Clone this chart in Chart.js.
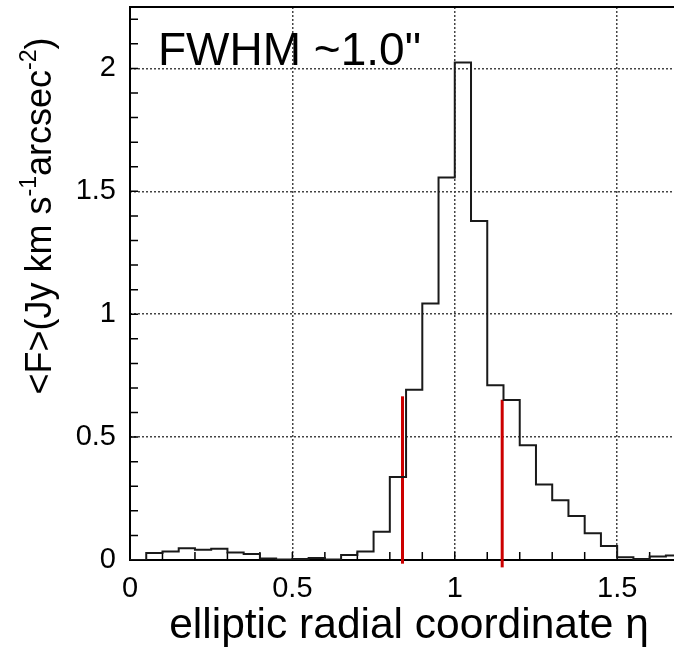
<!DOCTYPE html>
<html lang="en">
<head>
  <meta charset="UTF-8" />
  <title>Mean flux vs elliptic radial coordinate</title>
  <script src="https://cdn.jsdelivr.net/npm/chart.js"></script>
  <style>
    html, body { margin: 0; padding: 0; background: #fff; }
    #wrap { width: 674px; height: 647px; position: relative; }
  </style>
</head>
<body>
  <div id="wrap"><canvas id="fluxChart"></canvas></div>

  <script>
    // histogram bins (lower edges, width 0.05) and mean flux per bin
    const binEdges = [0, 0.05, 0.1, 0.15, 0.2, 0.25, 0.3, 0.35, 0.4, 0.45, 0.5, 0.55, 0.6, 0.65,
                      0.7, 0.75, 0.8, 0.85, 0.9, 0.95, 1.0, 1.05, 1.1, 1.15, 1.2, 1.25, 1.3, 1.35,
                      1.4, 1.45, 1.5, 1.55, 1.6, 1.65];
    const lastEdge = 1.7;
    const meanFlux = [0, 0.028, 0.035, 0.048, 0.042, 0.046, 0.031, 0.024, 0.006, 0.002, 0.004, 0.008, 0.002, 0.02,
                      0.035, 0.115, 0.338, 0.693, 1.044, 1.556, 2.024, 1.379, 0.711, 0.651, 0.467, 0.307, 0.243, 0.179,
                      0.109, 0.057, 0.011, 0.004, 0.014, 0.018];

    // red FWHM markers
    const markerX = [0.839, 1.146];
    const markerTop = [0.666, 0.652];
    const markerBottom = [-0.015, -0.03];

    const xTicks = [0, 0.5, 1, 1.5];
    const yTicks = [0, 0.5, 1, 1.5, 2];
    const xMinor = [0.1, 0.2, 0.3, 0.4, 0.5, 0.6, 0.7, 0.8, 0.9, 1.0, 1.1, 1.2, 1.3, 1.4, 1.5, 1.6];
    const yMinor = [0.1, 0.2, 0.3, 0.4, 0.5, 0.6, 0.7, 0.8, 0.9, 1.0, 1.1, 1.2, 1.3, 1.4, 1.5, 1.6,
                    1.7, 1.8, 1.9, 2.0, 2.1, 2.2];

    const FONT = '"Liberation Sans", Arial, Helvetica, sans-serif';

    const histPoints = binEdges.map((x, i) => ({ x: x, y: meanFlux[i] }));
    histPoints.push({ x: lastEdge, y: meanFlux[meanFlux.length - 1] });

    const markerSets = markerX.map((x, i) => ({
      data: [{ x: x, y: markerBottom[i] }, { x: x, y: markerTop[i] }],
      borderColor: '#cc0000',
      borderWidth: 3,
      pointRadius: 0,
      clip: false
    }));

    const frameAndText = {
      id: 'frameAndText',
      beforeDatasetsDraw(chart) {
        const { ctx, chartArea: a, scales: { x, y } } = chart;
        ctx.save();
        ctx.strokeStyle = '#000';
        ctx.lineWidth = 2;
        ctx.beginPath();
        ctx.moveTo(a.right + 2, a.top);
        ctx.lineTo(a.left, a.top);
        ctx.lineTo(a.left, a.bottom);
        ctx.lineTo(a.right + 2, a.bottom);
        ctx.stroke();

        ctx.lineWidth = 1.5;
        ctx.beginPath();
        xMinor.forEach(v => {
          const px = x.getPixelForValue(v);
          ctx.moveTo(px, a.bottom);
          ctx.lineTo(px, a.bottom - 8);
        });
        yMinor.forEach(v => {
          const py = y.getPixelForValue(v);
          ctx.moveTo(a.left, py);
          ctx.lineTo(a.left + 8, py);
        });
        ctx.stroke();
        ctx.restore();
      },
      afterDraw(chart) {
        const { ctx, chartArea: a } = chart;
        ctx.save();
        ctx.fillStyle = '#000';
        ctx.textBaseline = 'alphabetic';

        // label inside the plot
        ctx.font = '46px ' + FONT;
        ctx.textAlign = 'left';
        ctx.fillText('FWHM ~1.0"', a.left + 28, 65);

        // x axis title
        ctx.font = '42.5px ' + FONT;
        ctx.textAlign = 'center';
        ctx.fillText('elliptic radial coordinate \u03b7', 409, 638);

        // y axis title with superscripts
        const parts = [
          ['<F>(Jy km s', 0], ['-1', 1], ['arcsec', 0], ['-2', 1], [')', 0]
        ];
        const big = '36px ' + FONT, small = '23px ' + FONT;
        let total = 0;
        parts.forEach(p => { ctx.font = p[1] ? small : big; total += ctx.measureText(p[0]).width; });
        ctx.translate(51, 216 + total / 2);
        ctx.rotate(-Math.PI / 2);
        ctx.textAlign = 'left';
        let pos = 0;
        parts.forEach(p => {
          ctx.font = p[1] ? small : big;
          ctx.fillText(p[0], pos, p[1] ? -15 : 0);
          pos += ctx.measureText(p[0]).width;
        });
        ctx.restore();
      }
    };

    new Chart(document.getElementById('fluxChart'), {
      type: 'line',
      data: {
        datasets: [{
          data: histPoints,
          stepped: true,
          borderColor: '#1a1a1a',
          borderWidth: 2,
          pointRadius: 0,
          fill: false
        }].concat(markerSets)
      },
      options: {
        responsive: true,
        maintainAspectRatio: false,
        animation: false,
        layout: { padding: { top: 7, right: 0, left: 0, bottom: 0 } },
        plugins: { legend: { display: false }, tooltip: { enabled: false } },
        scales: {
          x: {
            type: 'linear',
            min: 0,
            max: 1.675,
            afterBuildTicks: s => { s.ticks = xTicks.map(v => ({ value: v })); },
            afterFit: s => { s.height = 87; s.paddingLeft = 0; s.paddingRight = 0; },
            ticks: {
              callback: v => String(v),
              color: '#000',
              font: { family: FONT, size: 29 },
              padding: 12,
              maxRotation: 0
            },
            grid: {
              drawTicks: false,
              color: c => (c.tick && c.tick.value === 0) ? 'rgba(0,0,0,0)' : '#444',
              lineWidth: 1.5
            },
            border: { display: false, dash: [2, 2] }
          },
          y: {
            type: 'linear',
            min: 0,
            max: 2.25,
            afterBuildTicks: s => { s.ticks = yTicks.map(v => ({ value: v })); },
            afterFit: s => { s.width = 130; s.paddingTop = 0; s.paddingBottom = 0; },
            ticks: {
              callback: v => String(v),
              color: '#000',
              font: { family: FONT, size: 29 },
              padding: 14
            },
            grid: {
              drawTicks: false,
              color: c => (c.tick && c.tick.value === 0) ? 'rgba(0,0,0,0)' : '#444',
              lineWidth: 1.5
            },
            border: { display: false, dash: [2, 2] }
          }
        }
      },
      plugins: [frameAndText]
    });
  </script>
</body>
</html>
